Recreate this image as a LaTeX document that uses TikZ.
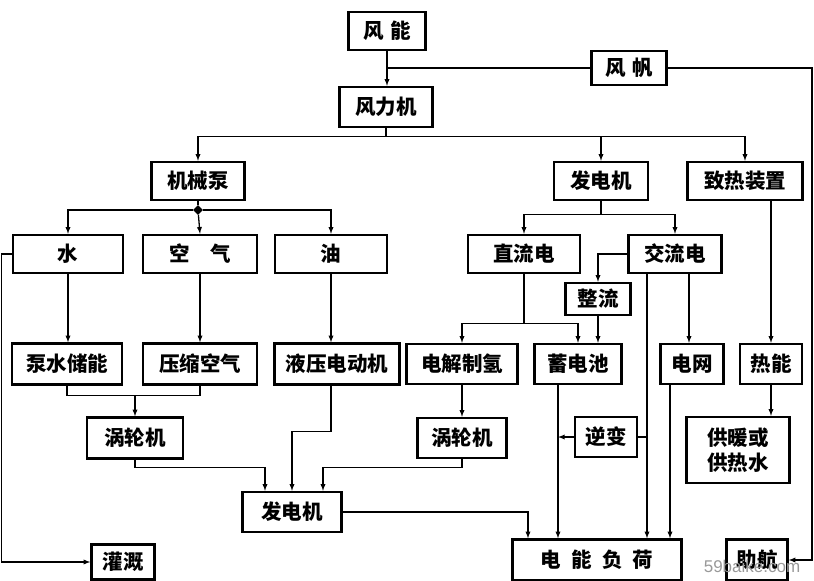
\documentclass[tikz,border=0pt]{standalone}
\usepackage{fontspec}
\usepackage{tikz}
\usetikzlibrary{arrows}
\usetikzlibrary{shapes.geometric}
\newfontfamily\cjk{Noto Sans CJK SC}
\newfontfamily\wmfont{Liberation Sans}
\tikzset{box/.style={draw,line width=2.4pt,inner sep=0pt,font=\cjk\bfseries\fontsize{20.5}{25}\selectfont},
  arr/.style={-latex,line width=1.3pt},
  ln/.style={line width=1.3pt}}

\begin{document}
\begin{tikzpicture}[x=1pt,y=-1pt]
      \useasboundingbox (0,0) rectangle (814,581);
      \node[box,minimum width=77,minimum height=38] (fn) at (387,31) {风\,\,能};
      \node[box,minimum width=93,minimum height=40] (flj) at (386,107) {风力机};
      \node[box,minimum width=75,minimum height=34] (ff) at (629,68) {风\,\,帆};
      \node[box,minimum width=93,minimum height=38] (jxb) at (198,181) {机械泵};
      \node[box,minimum width=94,minimum height=38] (fdj) at (601,181) {发电机};
      \node[box,minimum width=115,minimum height=38] (zr) at (745,181) {致热装置};
      \node[box,minimum width=110,minimum height=38] (shui) at (68,254) {水};
      \node[box,minimum width=114,minimum height=38] (kq) at (200,254) {空\quad 气};
      \node[box,minimum width=112,minimum height=38] (you) at (331,254) {油};
      \node[box,minimum width=112,minimum height=38] (zl) at (524,254) {直流电};
      \node[box,minimum width=93,minimum height=38] (jl) at (675,254) {交流电};
      \node[box,minimum width=65,minimum height=32] (zhl) at (598,299) {整流};
      \node[box,minimum width=110,minimum height=41] (bs) at (67,364) {泵水储能};
      \node[box,minimum width=114,minimum height=41] (ys) at (200,364) {压缩空气};
      \node[box,minimum width=125,minimum height=41] (yy) at (337,364) {液压电动机};
      \node[box,minimum width=111,minimum height=40] (dj) at (462,364) {电解制氢};
      \node[box,minimum width=87,minimum height=40] (xdc) at (578,364) {蓄电池};
      \node[box,minimum width=63,minimum height=40] (dw) at (692,364) {电网};
      \node[box,minimum width=62,minimum height=40] (rn) at (771,364) {热能};
      \node[box,minimum width=96,minimum height=41] (wl1) at (135,438) {涡轮机};
      \node[box,minimum width=89,minimum height=40] (wl2) at (462,438) {涡轮机};
      \node[box,minimum width=62,minimum height=40] (nb) at (606,437) {逆变};
      \node[box,minimum width=103,minimum height=66,align=center] (gn) at (738,450) {供暖或\\供热水};
      \node[box,minimum width=99,minimum height=40] (fd2) at (292,512) {发电机};
      \node[box,minimum width=63,minimum height=35] (gg) at (123,562) {灌溉};
      \node[box,minimum width=169,minimum height=41] (dn) at (597,560) {电\,\,\,能\,\,\,负\,\,\,荷};
      \node[box,minimum width=61,minimum height=41] (zh) at (757,560) {助航};
      \node[diamond,fill,inner sep=0pt,minimum size=10pt] (dm) at (198,210) {};
      \coordinate (rt) at (812,0);
      \draw[arr] (fn.south) -- (fn.south |- flj.north);
      \draw[ln] (ff.west) -- (fn.south |- ff.west);
      \draw[arr] (ff.east) -| (rt |- zh.east) -- (zh.east);
      \draw[arr] (flj.south) -- ++(0,8) -| (jxb.north);
      \draw[arr] (flj.south) -- ++(0,8) -| (fdj.north);
      \draw[arr] (flj.south) -- ++(0,8) -| (zr.north);
      \draw[arr] (dm) -| (shui.north);
      \draw[arr] (dm) -- (kq.north);
      \draw[arr] (dm) -| (you.north);
      \draw[ln] (jxb.south) -- (dm);
      \draw[arr] (shui.south) -- (shui.south |- bs.north);
      \draw[arr] (kq.south) -- (kq.south |- ys.north);
      \draw[arr] (you.south) -- (you.south |- yy.north);
      \draw[arr] (shui.west) -- ++(-10,0) |- (gg.west);
      \draw[ln] (bs.south) -- ++(0,10) -| (ys.south);
      \draw[arr] (wl1.north |- 0,395) -- (wl1.north);
      \draw[arr] (wl1.south) -- ++(0,8) -| ([xshift=-27pt]fd2.north);
      \draw[arr] (yy.south -| you) -- ++(0,46) -| (fd2.north);
      \draw[arr] (wl2.south) -- ++(0,8) -| ([xshift=31pt]fd2.north);
      \draw[arr] (fd2.east) -| ([xshift=-69pt]dn.north);
      \draw[arr] (fdj.south) -- ++(0,13) -| (zl.north);
      \draw[arr] (fdj.south) -- ++(0,13) -| (jl.north);
      \draw[arr] (jl.west) -| (zhl.north);
      \draw[arr] (zhl.south) -- (zhl.south |- xdc.north);
      \draw[arr] (zl.south) -- ++(0,49) -| (dj.north);
      \draw[arr] (zl.south) -- ++(0,49) -| (xdc.north);
      \draw[arr] (dj.south) -- (wl2.north);
      \draw[arr] ([xshift=-28pt]jl.south) -- ([xshift=-28pt]jl.south |- dn.north);
      \draw[arr] ([xshift=14pt]jl.south) -- ([xshift=14pt]jl.south |- dw.north);
      \draw[arr] ([xshift=-22pt]dw.south) -- ([xshift=-22pt]dw.south |- dn.north);
      \draw[arr] ([xshift=-20pt]xdc.south) -- ([xshift=-20pt]xdc.south |- dn.north);
      \draw[ln] (nb.east) -- ([xshift=-28pt]jl.south |- nb.east);
      \draw[arr] (nb.west) -- ([xshift=-20pt]xdc.south |- nb.west);
      \draw[arr] (zr.south -| rn) -- (rn.north);
      \draw[arr] (rn.south) -- (rn.south |- gn.north);
      \node[text=gray!80,font=\wmfont\fontsize{17}{20}\selectfont] (wm) at (752,566) {59baike.com};
\end{tikzpicture}
\end{document}
